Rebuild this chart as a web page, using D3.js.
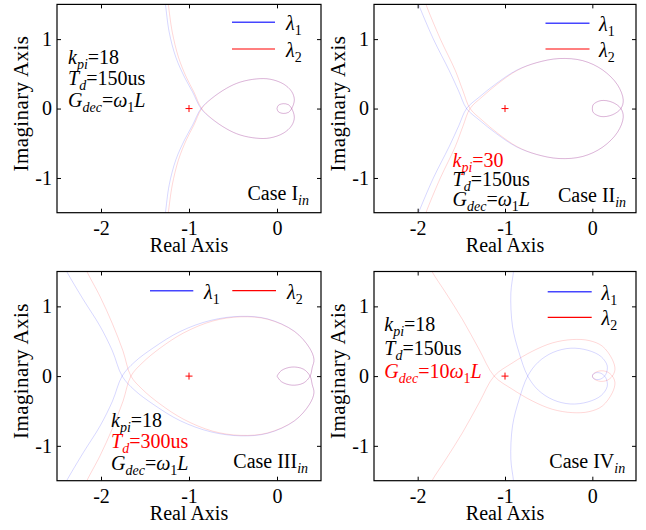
<!DOCTYPE html>
<html>
<head>
<meta charset="utf-8">
<script src="https://cdn.jsdelivr.net/npm/d3@7"></script>
<style>
  body { margin: 0; background: #fff; }
</style>
</head>
<body>
<div id="chart"></div>
<script>
var FONT = "Liberation Serif";

// axis settings shared by the four panels
var xDomain = [-2.5, 0.5],
    yDomain = [-1.5, 1.5],
    xTicks = [-2, -1, 0],
    yTicks = [-1, 0, 1];

// half Nyquist curves (positive frequency), [real, imag], mirrored for the other half
var case1L1 = [[-1.28,-1.6],[-1.268,-1.5],[-1.225,-1.1],[-1.15,-0.74],[-1.05,-0.45],[-0.96,-0.24],[-0.864,0],[-0.75,0.14],[-0.572,0.293],[-0.42,0.38],[-0.231,0.427],[-0.08,0.423],[0.072,0.355],[0.167,0.245],[0.197,0.125],[0.167,0],[0.13,-0.055],[0.07,-0.07],[0.015,-0.045],[0,0]];
var case1L2 = [[-1.245,-1.6],[-1.235,-1.5],[-1.19,-1.1],[-1.12,-0.74],[-1.03,-0.45],[-0.945,-0.24],[-0.856,0],[-0.745,0.14],[-0.572,0.293],[-0.42,0.38],[-0.231,0.427],[-0.08,0.423],[0.072,0.355],[0.167,0.245],[0.197,0.125],[0.167,0],[0.13,-0.055],[0.07,-0.07],[0.015,-0.045],[0,0]];

var case2L1 = [[-2.02,-1.6],[-1.99,-1.5],[-1.82,-1.0],[-1.64,-0.55],[-1.53,-0.25],[-1.44,0],[-1.29,0.17],[-1.10,0.36],[-0.87,0.55],[-0.64,0.66],[-0.38,0.72],[-0.11,0.69],[0.118,0.556],[0.289,0.34],[0.354,0.125],[0.327,0],[0.23,-0.09],[0.1,-0.115],[0.011,-0.058],[0,0]];
var case2L2 = [[-1.93,-1.6],[-1.905,-1.5],[-1.74,-1.0],[-1.57,-0.55],[-1.48,-0.25],[-1.40,0],[-1.26,0.17],[-1.08,0.36],[-0.86,0.55],[-0.64,0.66],[-0.38,0.72],[-0.11,0.69],[0.118,0.556],[0.289,0.34],[0.354,0.125],[0.327,0],[0.23,-0.09],[0.1,-0.115],[0.011,-0.058],[0,0]];

var case3L1 = [[-2.43,-1.6],[-2.39,-1.5],[-2.20,-1.095],[-2.01,-0.714],[-1.87,-0.36],[-1.76,0],[-1.62,0.2],[-1.40,0.41],[-1.10,0.64],[-0.75,0.8],[-0.41,0.857],[-0.106,0.82],[0.198,0.643],[0.369,0.405],[0.42,0.24],[0.40,0.12],[0.376,0],[0.3,-0.1],[0.17,-0.13],[0.05,-0.08],[0,0]];
var case3L2 = [[-2.19,-1.6],[-2.16,-1.5],[-2.01,-1.14],[-1.87,-0.75],[-1.75,-0.36],[-1.66,0],[-1.53,0.19],[-1.33,0.4],[-1.06,0.62],[-0.73,0.79],[-0.41,0.85],[-0.106,0.815],[0.198,0.64],[0.369,0.405],[0.42,0.24],[0.40,0.12],[0.376,0],[0.3,-0.1],[0.17,-0.13],[0.05,-0.08],[0,0]];

var case4L1 = [[-0.9,-1.6],[-0.903,-1.5],[-0.933,-1.19],[-0.914,-0.714],[-0.838,-0.333],[-0.74,0],[-0.62,0.2],[-0.45,0.34],[-0.25,0.4],[-0.05,0.37],[0.1,0.28],[0.17,0.15],[0.16,0.04],[0.14,0],[0.1,-0.04],[0.05,-0.05],[0.01,-0.03],[0,0]];
var case4L2 = [[-1.87,-1.6],[-1.836,-1.5],[-1.676,-1.19],[-1.486,-0.81],[-1.295,-0.38],[-1.124,0],[-0.914,0.19],[-0.686,0.357],[-0.457,0.476],[-0.229,0.524],[-0.038,0.51],[0.114,0.43],[0.229,0.238],[0.259,0.095],[0.229,0],[0.17,-0.06],[0.09,-0.075],[0.02,-0.04],[0,0]];

// annotation text, pieces: [text, italic, subscript, red]
var notes1 = [[["k",1],["pi",1,1],["=18"]], [["T",1],["d",1,1],["=150us"]], [["G",1],["dec",1,1],["="],["ω",1],["1",0,1],["L",1]]];
var notes2 = [[["k",1,0,1],["pi",1,1,1],["=30",0,0,1]], [["T",1],["d",1,1],["=150us"]], [["G",1],["dec",1,1],["="],["ω",1],["1",0,1],["L",1]]];
var notes3 = [[["k",1],["pi",1,1],["=18"]], [["T",1,0,1],["d",1,1,1],["=300us",0,0,1]], [["G",1],["dec",1,1],["="],["ω",1],["1",0,1],["L",1]]];
var notes4 = [[["k",1],["pi",1,1],["=18"]], [["T",1],["d",1,1],["=150us"]], [["G",1,0,1],["dec",1,1,1],["=10",0,0,1],["ω",1,0,1],["1",0,1,1],["L",1,0,1]]];
var caseNames = ["I", "II", "III", "IV"];

var panels = [
  {l: 57, t: 4.4, r: 321, b: 212.7, c1: case1L1, c2: case1L2, notes: notes1, nx: 68, ny: 63.5, ndy: 21.7, cx: 247.5, cy: 200,
   leg: [{x1: 232, x2: 275, y: 22.3, tx: 286, ty: 30}, {x1: 232, x2: 275, y: 49, tx: 286, ty: 57}]},
  {l: 374, t: 4.4, r: 636, b: 212.7, c1: case2L1, c2: case2L2, notes: notes2, nx: 452.5, ny: 166.5, ndy: 19.8, cx: 558, cy: 201.5,
   leg: [{x1: 545.5, x2: 589.5, y: 23.3, tx: 599, ty: 31}, {x1: 545.5, x2: 589.5, y: 49, tx: 599, ty: 57}]},
  {l: 57, t: 271.5, r: 321, b: 480.7, c1: case3L1, c2: case3L2, notes: notes3, nx: 111, ny: 426.5, ndy: 21.7, cx: 233.3, cy: 468.3,
   leg: [{x1: 150, x2: 193.3, y: 290.7, tx: 204, ty: 298.5}, {x1: 232.3, x2: 276, y: 290.7, tx: 287, ty: 298.5}]},
  {l: 374, t: 271.5, r: 636, b: 480.7, c1: case4L1, c2: case4L2, notes: notes4, nx: 384.3, ny: 331, ndy: 23.5, cx: 549.3, cy: 468.3,
   leg: [{x1: 547.7, x2: 591.7, y: 291.7, tx: 601.5, ty: 299.5}, {x1: 547.7, x2: 591.7, y: 317.3, tx: 601.5, ty: 325}]}
];

var svg = d3.select("#chart").append("svg")
    .attr("width", 646)
    .attr("height", 530)
    .attr("font-family", FONT);

function richText(g, x, y, pieces, size) {
  var t = g.append("text").attr("x", x).attr("y", y)
    .attr("font-family", FONT).attr("font-size", size);
  var sub = false;
  pieces.forEach(function(p) {
    var s = t.append("tspan").text(p[0]);
    if (p[1]) s.attr("font-style", "italic");
    if (p[3]) s.attr("fill", "#ff0000");
    if (p[2]) {
      s.attr("font-size", size * 0.7);
      if (!sub) s.attr("dy", size * 0.25);
      sub = true;
    } else if (sub) {
      s.attr("dy", -size * 0.25);
      sub = false;
    }
  });
  return t;
}

panels.forEach(function(p, i) {
  var x = d3.scaleLinear().domain(xDomain).range([p.l, p.r]);
  var y = d3.scaleLinear().domain(yDomain).range([p.b, p.t]);
  var g = svg.append("g");

  svg.append("clipPath").attr("id", "clip" + i)
    .append("rect").attr("x", p.l).attr("y", p.t).attr("width", p.r - p.l).attr("height", p.b - p.t);

  var line = d3.line()
      .x(function(d) { return x(d[0]); })
      .y(function(d) { return y(d[1]); })
      .curve(d3.curveCatmullRom.alpha(0.5));
  var mirror = d3.line()
      .x(function(d) { return x(d[0]); })
      .y(function(d) { return y(-d[1]); })
      .curve(d3.curveCatmullRom.alpha(0.5));

  var curves = g.append("g").attr("clip-path", "url(#clip" + i + ")");
  [[p.c1, "#0000ff"], [p.c2, "#ff0000"]].forEach(function(c) {
    curves.append("path").attr("d", line(c[0]))
      .attr("fill", "none").attr("stroke", c[1]).attr("stroke-width", 0.8).attr("stroke-opacity", 0.2);
    curves.append("path").attr("d", mirror(c[0]))
      .attr("fill", "none").attr("stroke", c[1]).attr("stroke-width", 0.8).attr("stroke-opacity", 0.2);
  });

  // critical point marker
  g.append("path")
    .attr("d", "M" + (x(-1) - 3.5) + "," + y(0) + "h7M" + x(-1) + "," + (y(0) - 3.5) + "v7")
    .attr("stroke", "#ff0000").attr("stroke-width", 1).attr("fill", "none");

  // axes, ticks pointing inward
  var fmt = function(d) { return String(d); };
  var ax = g.append("g").attr("transform", "translate(0," + p.b + ")")
    .call(d3.axisBottom(x).tickValues(xTicks).tickSizeInner(-4).tickSizeOuter(0).tickPadding(8).tickFormat(fmt));
  var ay = g.append("g").attr("transform", "translate(" + p.l + ",0)")
    .call(d3.axisLeft(y).tickValues(yTicks).tickSizeInner(-4).tickSizeOuter(0).tickPadding(5).tickFormat(fmt));
  var at = g.append("g").attr("transform", "translate(0," + p.t + ")")
    .call(d3.axisTop(x).tickValues(xTicks).tickSizeInner(-4).tickSizeOuter(0).tickFormat(""));
  var ar = g.append("g").attr("transform", "translate(" + p.r + ",0)")
    .call(d3.axisRight(y).tickValues(yTicks).tickSizeInner(-4).tickSizeOuter(0).tickFormat(""));
  [ax, ay, at, ar].forEach(function(a) {
    a.attr("font-family", FONT).attr("font-size", 20);
    a.select(".domain").remove();
    a.selectAll("line").attr("stroke", "#000").attr("stroke-width", 1);
    a.selectAll("text").attr("fill", "#000");
  });

  g.append("rect").attr("x", p.l).attr("y", p.t).attr("width", p.r - p.l).attr("height", p.b - p.t)
    .attr("fill", "none").attr("stroke", "#000").attr("stroke-width", 1.2);

  // axis titles
  g.append("text").attr("x", (p.l + p.r) / 2).attr("y", p.b + 39)
    .attr("text-anchor", "middle").attr("font-family", FONT).attr("font-size", 20).text("Real Axis");
  g.append("text")
    .attr("transform", "translate(" + (p.l - 29.5) + "," + ((p.t + p.b) / 2 - 5) + ") rotate(-90)")
    .attr("text-anchor", "middle").attr("font-family", FONT).attr("font-size", 21)
    .attr("letter-spacing", 0.4).text("Imaginary Axis");

  // legend
  var colors = ["#4646ff", "#ff0000"];
  p.leg.forEach(function(e, k) {
    g.append("line").attr("x1", e.x1).attr("x2", e.x2).attr("y1", e.y).attr("y2", e.y)
      .attr("stroke", colors[k]).attr("stroke-width", k === 0 ? 1.6 : 1.2);
    richText(g, e.tx, e.ty, [["λ", 1], [String(k + 1), 0, 1]], 20);
  });

  // parameter notes
  p.notes.forEach(function(n, k) {
    richText(g, p.nx, p.ny + k * p.ndy, n, 20);
  });

  richText(g, p.cx, p.cy, [["Case " + caseNames[i]], ["in", 1, 1]], 20);
});
</script>
</body>
</html>
